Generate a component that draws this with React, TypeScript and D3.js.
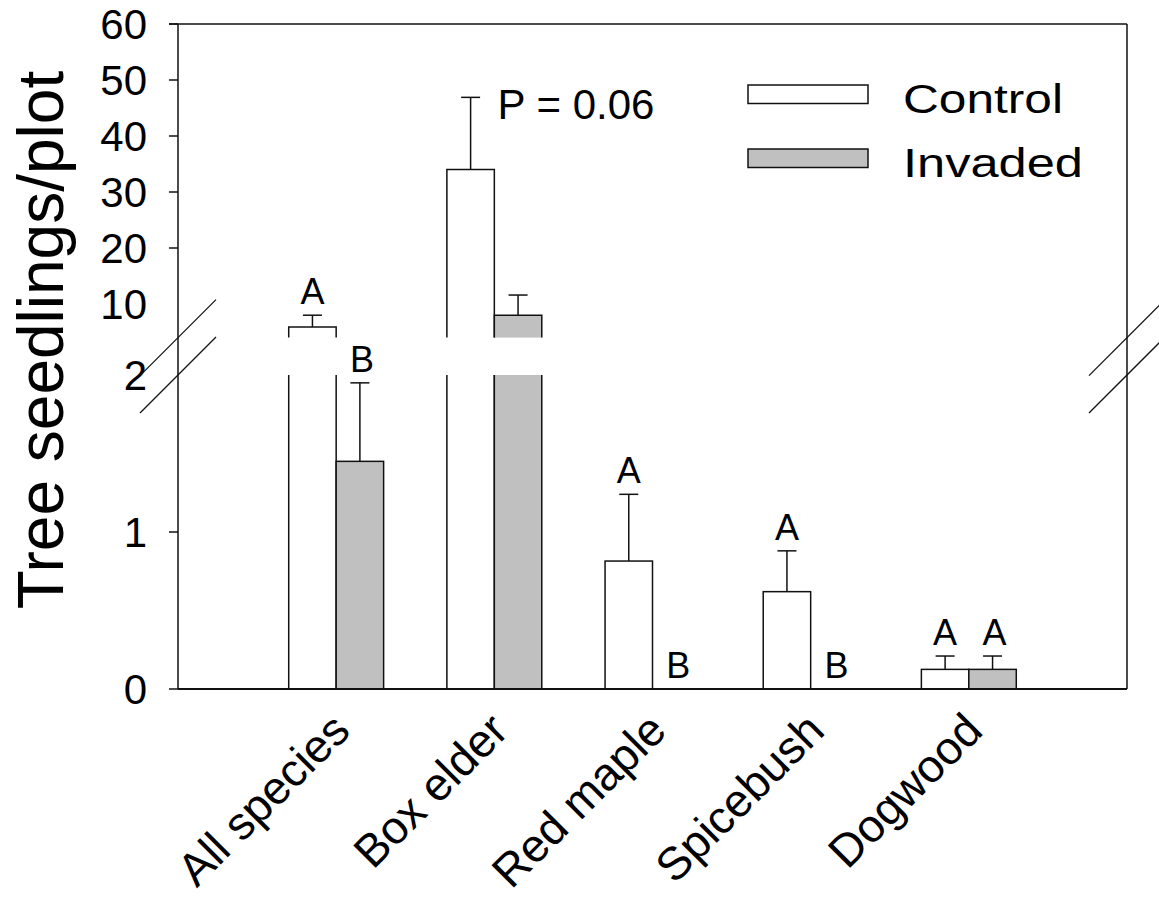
import * as d3 from "d3";

const W = 1159;
const H = 898;
const FONT = "'Liberation Sans', Arial, Helvetica, sans-serif";

const categories = ["All species", "Box elder", "Red maple", "Spicebush", "Dogwood"];
const controlMean = [5.9, 34.0, 0.815, 0.62, 0.125];
const controlSE = [2.1, 12.9, 0.425, 0.26, 0.085];
const invadedMean = [1.45, 8.0, 0, 0, 0.125];
const invadedSE = [0.5, 3.6, 0, 0, 0.085];
const controlLetters = ["A", "", "A", "A", "A"];
const invadedLetters = ["B", "", "B", "B", "A"];

const upperTickLabels = [10, 20, 30, 40, 50, 60];
const upperTickMarks = [20, 30, 40, 50, 60];
const lowerTickLabels = [0, 1, 2];
const lowerTickMarks = [0, 1];

const seriesNames = ["Control", "Invaded"];
const seriesFill = ["#ffffff", "#c0c0c0"];

const LEFT = 178;
const RIGHT = 1127;
const BREAK_LOW = 2;
const BREAK_HIGH = 4;

const xPoint = d3.scalePoint<string>().domain(categories).range([LEFT, RIGHT]).padding(1);
const barW = xPoint.step() * 0.3;

const yUpper = d3.scaleLinear().domain([BREAK_HIGH, 60]).range([337.6, 24]);
const yLower = d3.scaleLinear().domain([0, BREAK_LOW]).range([689, 375]);

const yOf = (v: number) => (v > BREAK_LOW ? yUpper(v) : yLower(v));

const Bar = ({ x, v, fill }: { x: number; v: number; fill: string }) => {
  if (v <= 0) return null;
  const x0 = x;
  const x1 = x + barW;
  if (v <= BREAK_LOW) {
    const y = yLower(v);
    return (
      <rect x={x0} y={y} width={barW} height={yLower(0) - y} fill={fill} stroke="#111" strokeWidth={1.5} />
    );
  }
  // broken bar: lower stub + upper part
  const yb = yLower(0);
  const yl = yLower(BREAK_LOW);
  const yu = yUpper(BREAK_HIGH);
  const yt = yUpper(v);
  return (
    <g>
      <rect x={x0} y={yl} width={barW} height={yb - yl} fill={fill} />
      <path d={`M${x0},${yl}V${yb}H${x1}V${yl}`} fill="none" stroke="#111" strokeWidth={1.5} />
      <rect x={x0} y={yt} width={barW} height={yu - yt} fill={fill} />
      <path d={`M${x0},${yu}V${yt}H${x1}V${yu}`} fill="none" stroke="#111" strokeWidth={1.5} />
    </g>
  );
};

const ErrBar = ({ cx, v, se }: { cx: number; v: number; se: number }) => {
  if (se <= 0) return null;
  const y0 = yOf(v);
  const y1 = yOf(v + se);
  return (
    <g stroke="#111" strokeWidth={1.5}>
      <line x1={cx} x2={cx} y1={y0} y2={y1} />
      <line x1={cx - 9.5} x2={cx + 9.5} y1={y1} y2={y1} />
    </g>
  );
};

const BreakMark = ({ x }: { x: number }) => {
  const ya = yUpper(BREAK_HIGH);
  const yb = yLower(BREAK_LOW);
  return (
    <g stroke="#111" strokeWidth={1.3}>
      <line x1={x - 38} y1={ya + 38} x2={x + 38} y2={ya - 38} />
      <line x1={x - 38} y1={yb + 38} x2={x + 38} y2={yb - 38} />
    </g>
  );
};

export default function App() {
  return (
    <svg
      width={W}
      height={H}
      style={{ position: "absolute", left: 0, top: 0, background: "#fff" }}
      fontFamily={FONT}
    >
      <rect width={W} height={H} fill="#fff" />

      {/* bars */}
      {categories.map((c, i) => {
        const cx = xPoint(c)!;
        const xc = cx - barW;
        const xi = cx;
        const cTop = yOf(controlMean[i] + controlSE[i]);
        const iTop = yOf(invadedMean[i] + invadedSE[i]);
        return (
          <g key={c}>
            <Bar x={xc} v={controlMean[i]} fill={seriesFill[0]} />
            <Bar x={xi} v={invadedMean[i]} fill={seriesFill[1]} />
            <ErrBar cx={xc + barW / 2} v={controlMean[i]} se={controlSE[i]} />
            <ErrBar cx={xi + barW / 2} v={invadedMean[i]} se={invadedSE[i]} />
            {controlLetters[i] && (
              <text x={xc + barW / 2} y={cTop - 11} fontSize={36} textAnchor="middle">
                {controlLetters[i]}
              </text>
            )}
            {invadedLetters[i] && (
              <text x={xi + barW / 2 + 2} y={iTop - 11} fontSize={36} textAnchor="middle">
                {invadedLetters[i]}
              </text>
            )}
            {c === "Box elder" && (
              <text x={xc + barW / 2 + 27} y={cTop + 22} fontSize={42}>
                P = 0.06
              </text>
            )}
          </g>
        );
      })}

      {/* frame */}
      <g stroke="#111" fill="none">
        <line x1={LEFT - 9} x2={RIGHT} y1={yUpper(60)} y2={yUpper(60)} strokeWidth={1.5} />
        <line x1={LEFT} x2={LEFT} y1={yUpper(60)} y2={yLower(0)} strokeWidth={1.5} />
        <line x1={RIGHT} x2={RIGHT} y1={yUpper(60)} y2={yLower(0)} strokeWidth={1.5} />
        <line x1={LEFT} x2={RIGHT} y1={yLower(0)} y2={yLower(0)} strokeWidth={2} />
      </g>

      {/* y ticks */}
      <g stroke="#111" strokeWidth={1.5}>
        {upperTickMarks.map((t) => (
          <line key={"u" + t} x1={LEFT - 9} x2={LEFT} y1={yUpper(t)} y2={yUpper(t)} />
        ))}
        {lowerTickMarks.map((t) => (
          <line key={"l" + t} x1={LEFT - 9} x2={LEFT} y1={yLower(t)} y2={yLower(t)} />
        ))}
      </g>
      <g fontSize={42} textAnchor="end">
        {upperTickLabels.map((t) => (
          <text key={"u" + t} x={147} y={yUpper(t) + 15}>
            {t}
          </text>
        ))}
        {lowerTickLabels.map((t) => (
          <text key={"l" + t} x={147} y={yLower(t) + 15}>
            {t}
          </text>
        ))}
      </g>

      <BreakMark x={LEFT} />
      <BreakMark x={RIGHT} />

      {/* x labels */}
      {categories.map((c) => {
        const x = xPoint(c)! + 16;
        const y = 733;
        return (
          <text
            key={c}
            x={0}
            y={0}
            fontSize={46}
            textAnchor="end"
            transform={`translate(${x}, ${y}) rotate(-45)`}
          >
            {c}
          </text>
        );
      })}

      {/* y title */}
      <text
        x={0}
        y={0}
        fontSize={64}
        textAnchor="middle"
        transform={`translate(63, 340) rotate(-90)`}
      >
        Tree seedlings/plot
      </text>

      {/* legend */}
      {seriesNames.map((s, i) => (
        <g key={s} transform={`translate(748, ${85 + i * 64})`}>
          <rect x={0} y={0} width={120} height={18.5} fill={seriesFill[i]} stroke="#111" strokeWidth={1.5} />
          <text
            x={155}
            y={28}
            fontSize={40}
            textLength={i === 0 ? 160 : 180}
            lengthAdjust="spacingAndGlyphs"
          >
            {s}
          </text>
        </g>
      ))}
    </svg>
  );
}
